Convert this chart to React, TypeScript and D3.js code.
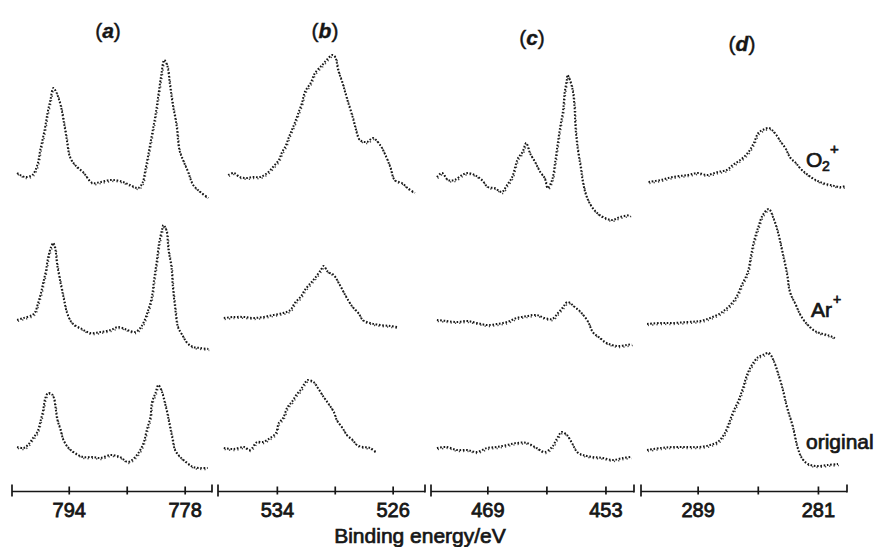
import React from 'react';
import * as d3 from 'd3';

type Pt = [number, number];

// [binding energy eV, intensity (arb.)]
// row 1: O2+ treated
const aO2: Pt[] = [
  [801.2, 52], [800.1, 48], [799.1, 50], [798.4, 60], [798.0, 75], [797.4, 95], [797.0, 112], [796.6, 125],
  [796.2, 137], [795.8, 133], [795.2, 120], [794.8, 105], [794.4, 88], [793.9, 68], [793.2, 60], [792.1, 53],
  [790.8, 42], [789.7, 43], [788.3, 45], [787.0, 44], [785.6, 40], [784.5, 37], [783.9, 42], [783.5, 55],
  [783.1, 70], [782.6, 90], [782.1, 110], [781.7, 130], [781.3, 150], [780.9, 165], [780.5, 160], [780.1, 140],
  [779.7, 120], [779.2, 100], [778.8, 75], [778.3, 65], [777.6, 53], [776.9, 40], [775.9, 33], [774.8, 27],
];
const bO2: Pt[] = [
  [537.4, 50], [537.0, 52], [536.6, 48], [536.1, 47], [535.7, 48], [535.2, 48], [534.7, 52], [534.3, 58],
  [533.9, 65], [533.7, 72], [533.4, 80], [533.2, 88], [533.0, 95], [532.8, 102], [532.6, 110], [532.3, 122],
  [532.1, 133], [531.7, 142], [531.4, 152], [530.9, 160], [530.6, 165], [530.2, 170], [530.0, 168], [529.8, 155],
  [529.5, 142], [529.3, 132], [529.1, 122], [528.8, 108], [528.6, 97], [528.3, 85], [527.8, 83], [527.4, 87],
  [526.9, 80], [526.6, 72], [526.2, 58], [525.9, 45], [525.4, 42], [525.0, 37], [524.5, 32],
];
const cO2: Pt[] = [
  [475.9, 48], [475.2, 52], [474.4, 45], [473.5, 45], [472.5, 50], [471.7, 52], [470.8, 50], [469.8, 45],
  [469.0, 38], [468.1, 37], [467.1, 33], [466.4, 40], [465.7, 48], [465.3, 58], [464.9, 67], [464.3, 73],
  [463.8, 82], [463.3, 72], [462.6, 63], [461.9, 53], [461.3, 47], [460.9, 37], [460.3, 45], [459.9, 62],
  [459.6, 78], [459.2, 98], [458.8, 115], [458.6, 132], [458.3, 145], [458.2, 150], [457.6, 138], [457.3, 122],
  [457.1, 95], [456.8, 75], [456.4, 57], [456.1, 42], [455.6, 28], [454.9, 18], [454.2, 12], [453.4, 8],
  [452.2, 5], [451.1, 8], [449.7, 10],
];
const dO2: Pt[] = [
  [292.3, 43], [291.5, 45], [290.7, 48], [289.7, 50], [289.0, 52], [288.4, 50], [287.7, 53], [287.1, 55],
  [286.7, 60], [286.2, 65], [285.7, 72], [285.3, 82], [285.0, 92], [284.7, 95], [284.3, 97], [283.9, 92],
  [283.5, 83], [283.2, 77], [282.9, 68], [282.5, 62], [282.1, 55], [281.5, 48], [280.9, 43], [280.2, 40],
  [279.5, 38], [279.2, 39],
];

// row 2: Ar+ treated
const aAr: Pt[] = [
  [801.2, 40], [800.3, 42], [799.1, 45], [798.7, 48], [798.3, 57], [797.9, 67], [797.6, 77], [797.2, 90],
  [796.9, 103], [796.5, 113], [796.2, 117], [795.9, 110], [795.7, 97], [795.2, 77], [794.8, 63], [794.3, 47],
  [793.6, 37], [792.5, 32], [791.1, 27], [789.7, 28], [788.3, 30], [787.2, 33], [786.0, 30], [784.9, 28],
  [784.2, 32], [783.7, 38], [783.1, 50], [782.6, 63], [782.3, 80], [781.9, 100], [781.6, 117], [781.2, 130],
  [781.0, 135], [780.6, 130], [780.3, 110], [779.9, 93], [779.7, 73], [779.4, 53], [779.0, 33], [778.4, 25],
  [777.7, 17], [776.9, 13], [775.9, 12], [774.8, 11],
];
const bAr: Pt[] = [
  [537.7, 42], [537.0, 43], [536.3, 43], [535.7, 42], [535.0, 43], [534.3, 45], [533.6, 47], [533.1, 50],
  [532.8, 57], [532.4, 63], [532.1, 70], [531.7, 77], [531.4, 82], [531.0, 90], [530.8, 94], [530.5, 88],
  [530.1, 85], [529.8, 78], [529.5, 70], [529.2, 62], [528.8, 53], [528.4, 47], [528.1, 40], [527.6, 37],
  [526.9, 35], [526.2, 34], [525.7, 33],
];
const cAr: Pt[] = [
  [475.9, 40], [474.6, 39], [473.2, 38], [471.8, 39], [470.5, 37], [469.1, 35], [467.8, 36], [466.4, 38],
  [465.1, 42], [463.7, 44], [462.4, 45], [461.3, 42], [460.3, 41], [459.5, 47], [458.8, 53], [458.2, 58],
  [457.2, 53], [456.3, 47], [455.4, 38], [454.8, 28], [453.8, 22], [452.9, 17], [451.5, 14], [450.2, 15],
  [449.5, 16],
];
const dAr: Pt[] = [
  [292.4, 36], [291.5, 37], [290.7, 37], [289.7, 38], [288.9, 39], [288.2, 42], [287.5, 47], [287.0, 53],
  [286.5, 62], [286.1, 75], [285.7, 88], [285.5, 103], [285.3, 118], [285.0, 133], [284.7, 145], [284.3, 151],
  [284.0, 142], [283.7, 128], [283.4, 108], [283.1, 87], [282.9, 68], [282.5, 55], [282.2, 45], [281.7, 35],
  [281.1, 28], [280.4, 25], [279.9, 22],
];

// row 3: original surface
const aOrig: Pt[] = [
  [801.2, 33], [800.3, 32], [799.7, 35], [799.0, 42], [798.4, 48], [798.0, 58], [797.6, 70], [797.3, 82],
  [796.9, 87], [796.3, 85], [795.9, 73], [795.7, 62], [795.2, 50], [794.8, 40], [794.1, 32], [793.2, 27],
  [792.1, 23], [790.8, 23], [789.7, 22], [788.3, 25], [787.0, 23], [785.9, 18], [784.9, 23], [784.2, 30],
  [783.7, 38], [783.3, 50], [782.8, 63], [782.6, 77], [782.1, 87], [781.7, 95], [781.2, 88], [780.9, 80],
  [780.5, 68], [780.2, 57], [779.8, 43], [779.4, 30], [778.7, 23], [777.7, 17], [776.9, 13], [775.9, 12],
  [774.9, 12],
];
const bOrig: Pt[] = [
  [537.7, 32], [537.0, 31], [536.3, 33], [535.9, 30], [535.4, 38], [535.0, 38], [534.5, 42], [534.1, 47],
  [533.9, 57], [533.6, 62], [533.3, 73], [533.0, 78], [532.7, 85], [532.4, 90], [532.1, 97], [531.9, 100],
  [531.5, 98], [531.2, 92], [530.8, 83], [530.5, 77], [530.1, 68], [529.9, 60], [529.5, 52], [529.2, 45],
  [528.8, 40], [528.5, 35], [528.1, 33], [527.6, 32], [527.2, 28],
];
const cOrig: Pt[] = [
  [475.9, 32], [474.6, 33], [473.2, 30], [471.8, 30], [470.5, 28], [469.1, 32], [467.8, 33], [466.4, 35],
  [465.1, 37], [463.7, 37], [462.4, 32], [461.3, 28], [460.3, 33], [459.6, 42], [459.0, 48], [458.3, 45],
  [457.6, 37], [456.9, 28], [456.1, 25], [454.8, 23], [453.4, 22], [452.1, 20], [450.7, 22], [449.7, 23],
];
const dOrig: Pt[] = [
  [292.4, 30], [291.5, 32], [290.7, 33], [289.7, 33], [288.9, 33], [288.2, 35], [287.7, 38], [287.3, 45],
  [287.0, 55], [286.7, 67], [286.3, 80], [286.0, 93], [285.7, 107], [285.3, 118], [285.0, 123], [284.7, 125],
  [284.3, 127], [284.0, 120], [283.7, 107], [283.4, 92], [283.1, 73], [282.7, 53], [282.4, 33], [282.1, 22],
  [281.7, 16], [281.1, 14], [280.4, 15], [279.7, 16],
];

const spectra: Pt[][][] = [
  [aO2, aAr, aOrig],
  [bO2, bAr, bOrig],
  [cO2, cAr, cOrig],
  [dO2, dAr, dOrig],
];

const panelNames = ['a', 'b', 'c', 'd'];
const energyDomains: [number, number][] = [[801.9, 774.3], [538.1, 523.8], [476.7, 449.2], [292.8, 279.1]];
const energyTicks = [[794, 786, 778], [534, 530, 526], [469, 461, 453], [289, 285, 281]];
const energyLabels = [[794, 778], [534, 526], [469, 453], [289, 281]];

const W = 875;
const H = 547;
const font = '"Liberation Sans", Arial, Helvetica, sans-serif';
const ink = '#161616';

const panelRanges: [number, number][] = [[12, 212], [218, 425], [431, 634], [641, 847]];
const titlePos: [number, number][] = [[108, 38], [325, 38], [532, 45], [742, 51]];
const rowBase = [225, 360, 480];
const axisY = 491.5;

const App = () => {
  const xScales = energyDomains.map((dom, i) => d3.scaleLinear().domain(dom).range(panelRanges[i]));
  const yScales = rowBase.map(b => d3.scaleLinear().domain([0, 150]).range([b, b - 150]));

  return (
    <svg
      width={W}
      height={H}
      style={{ position: 'absolute', left: 0, top: 0, background: '#fff' }}
      fontFamily={font}
    >
      <rect width={W} height={H} fill="#fff" />

      {spectra.map((rows, p) =>
        rows.map((data, r) => {
          const line = d3
            .line<Pt>()
            .x(d => xScales[p](d[0]))
            .y(d => yScales[r](d[1]))
            .curve(d3.curveCatmullRom.alpha(0.5));
          const path = line(data) || '';
          return (
            <g key={`${p}-${r}`}>
              <path d={path} fill="none" stroke={ink} strokeWidth={2} strokeDasharray="1.6 1.7" />
              <path
                d={path}
                fill="none"
                stroke={ink}
                strokeWidth={1.5}
                strokeDasharray="1.2 3.1"
                transform="translate(0.9,1.4)"
                opacity={0.8}
              />
            </g>
          );
        })
      )}

      {/* panel titles */}
      {panelNames.map((n, i) => (
        <text
          key={n}
          x={titlePos[i][0]}
          y={titlePos[i][1]}
          fontSize={21}
          textAnchor="middle"
          fill={ink}
          stroke={ink}
          strokeWidth={0.4}
        >
          (<tspan fontStyle="italic" fontWeight="bold">{n}</tspan>)
        </text>
      ))}

      {/* energy axes */}
      {xScales.map((x, i) => {
        const [x0, x1] = x.range();
        return (
          <g key={`ax${i}`} stroke={ink} strokeWidth={1.7}>
            <line x1={x0} x2={x1} y1={axisY} y2={axisY} />
            <line x1={x0} x2={x0} y1={axisY - 7} y2={axisY + 5} />
            <line x1={x1} x2={x1} y1={axisY - 7} y2={axisY + 1} />
            {energyTicks[i].map(t => (
              <line key={t} x1={x(t)} x2={x(t)} y1={axisY - 5} y2={axisY + 3} />
            ))}
            {energyLabels[i].map(t => (
              <text
                key={`l${t}`}
                x={x(t)}
                y={517}
                fontSize={20}
                textAnchor="middle"
                fill={ink}
                stroke={ink}
                strokeWidth={0.8}
              >
                {t}
              </text>
            ))}
          </g>
        );
      })}

      <text x={420} y={543} fontSize={21} textAnchor="middle" fill={ink} stroke={ink} strokeWidth={0.7}>
        Binding energy/eV
      </text>

      {/* treatment labels */}
      <g fill={ink} stroke={ink} strokeWidth={0.7}>
        <text x={806} y={167} fontSize={21}>O</text>
        <text x={822} y={171} fontSize={14}>2</text>
        <text x={830} y={154} fontSize={15}>+</text>
        <text x={811} y={317} fontSize={21}>Ar</text>
        <text x={833} y={304} fontSize={14}>+</text>
        <text x={806} y={449} fontSize={21}>original</text>
      </g>
    </svg>
  );
};

export default App;
